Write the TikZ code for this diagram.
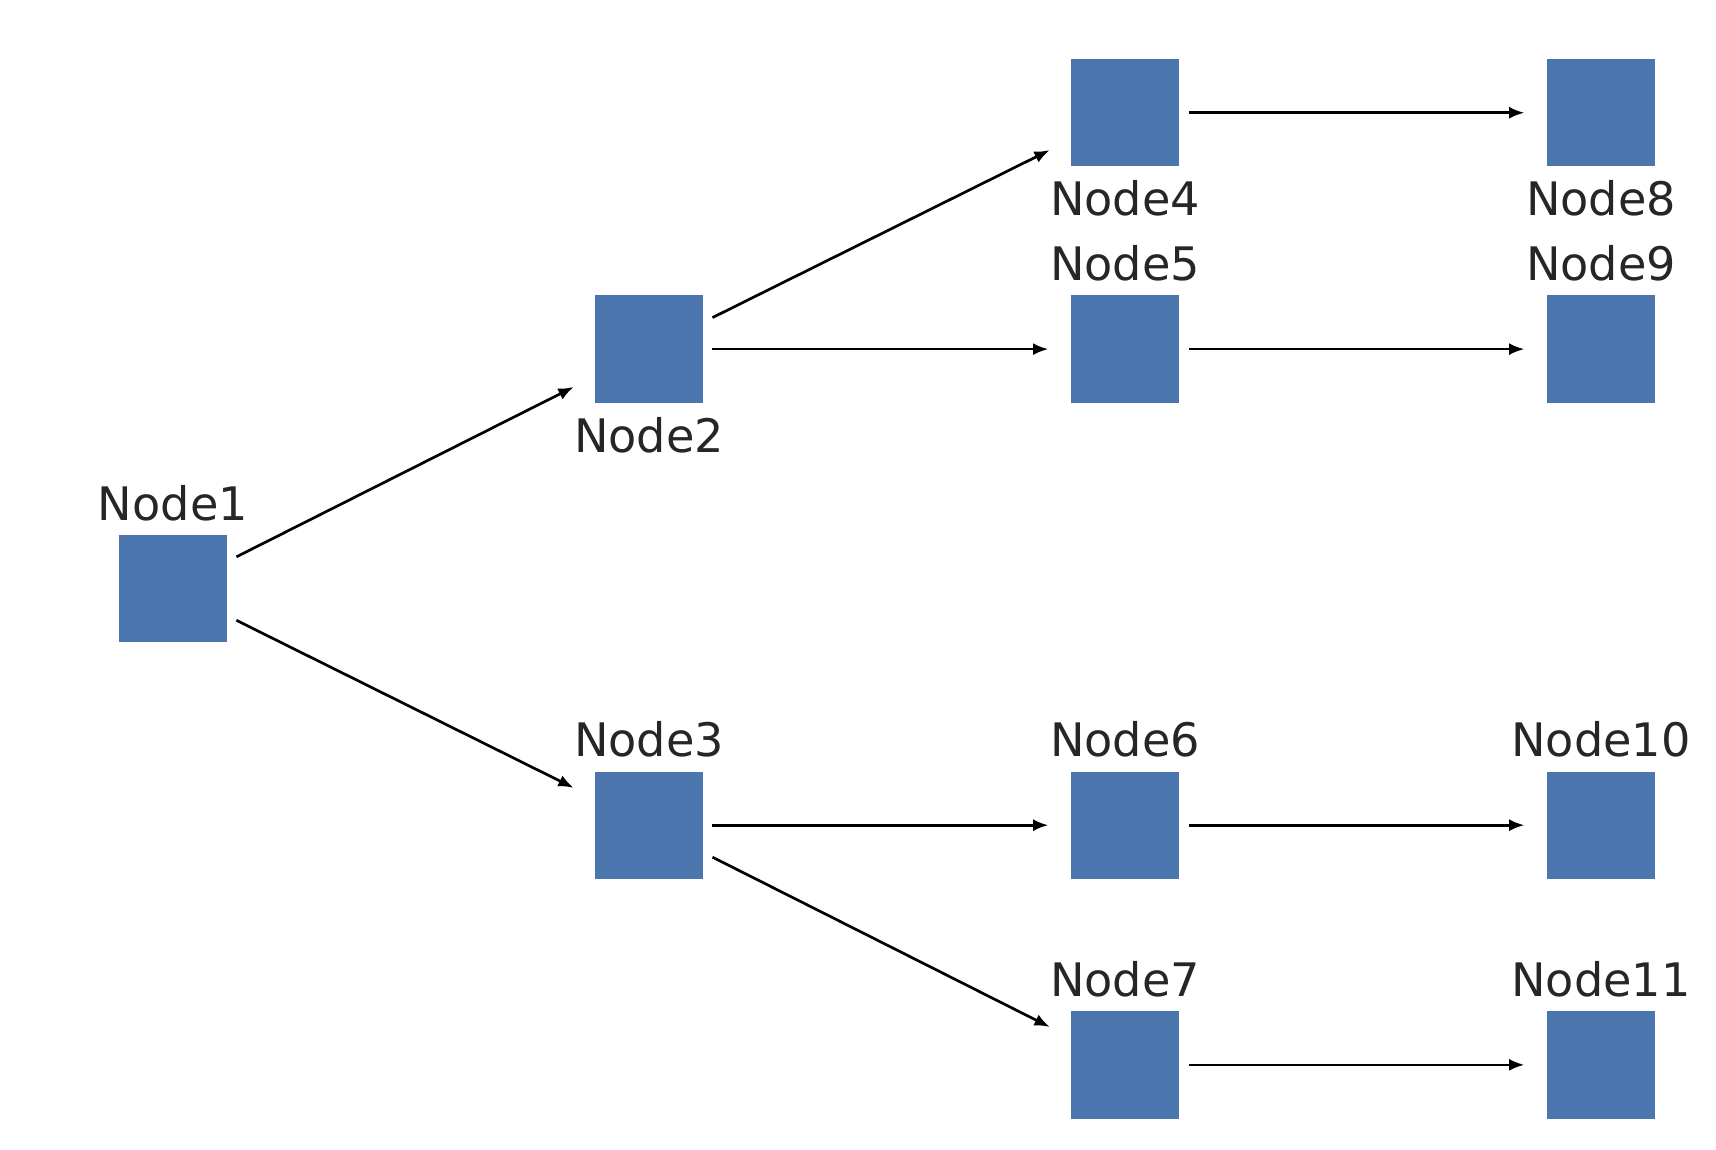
\documentclass[tikz,border=0pt]{standalone}
\usepackage{fontspec}
\setmainfont{DejaVu Sans}
\usetikzlibrary{arrows.meta}
\definecolor{boxblue}{HTML}{4A76AD}

\begin{document}
\begin{tikzpicture}[x=0.01cm,y=-0.01cm,
    box/.style={fill=boxblue,minimum size=0.98cm,inner sep=0pt,outer sep=0.09cm},
    lab/.style={font=\fontsize{12}{14}\selectfont,text=black!85,inner sep=0pt,label distance=1pt},
    link/.style={-{Latex[length=0.14cm,width=0.11cm]},line width=0.7pt,shorten >=0.12cm}]
    \useasboundingbox (0,0) rectangle (1568,1050);

    \node[box,label={[lab]above:Node1}]  (n1)  at (158,538) {};
    \node[box,label={[lab]below:Node2}]  (n2)  at (593,319) {};
    \node[box,label={[lab]above:Node3}]  (n3)  at (593,754) {};
    \node[box,label={[lab]below:Node4}]  (n4)  at (1028,103) {};
    \node[box,label={[lab]above:Node5}]  (n5)  at (1028,319) {};
    \node[box,label={[lab]above:Node6}]  (n6)  at (1028,754) {};
    \node[box,label={[lab]above:Node7}]  (n7)  at (1028,973) {};
    \node[box,label={[lab]below:Node8}]  (n8)  at (1463,103) {};
    \node[box,label={[lab]above:Node9}]  (n9)  at (1463,319) {};
    \node[box,label={[lab]above:Node10}] (n10) at (1463,754) {};
    \node[box,label={[lab]above:Node11}] (n11) at (1463,973) {};

    \foreach \a/\b in {n1/n2,n1/n3,n2/n4,n2/n5,n3/n6,n3/n7,n4/n8,n5/n9,n6/n10,n7/n11}
        \draw[link] (\a) -- (\b);
\end{tikzpicture}
\end{document}
